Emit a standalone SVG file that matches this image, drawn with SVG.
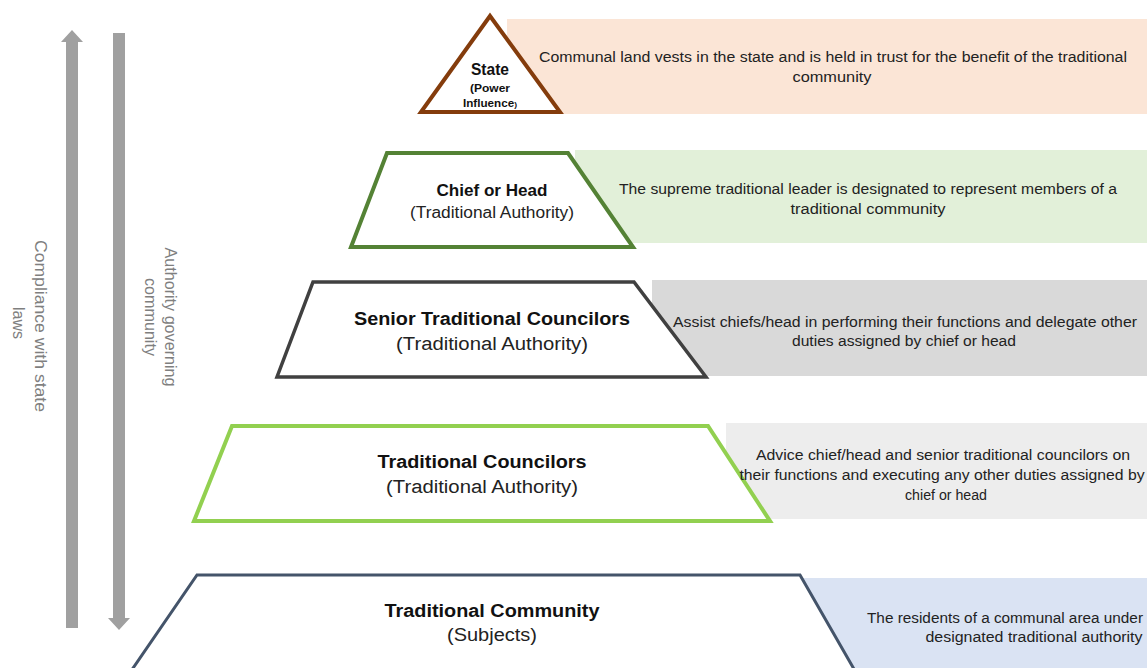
<svg xmlns="http://www.w3.org/2000/svg" width="1147" height="668" viewBox="0 0 1147 668">
<style>
.box{stroke:none}
.desc{font-family:"Liberation Sans",Arial,sans-serif;font-size:14px;fill:#222;text-anchor:middle}
.ttl{font-family:"Liberation Sans",Arial,sans-serif;font-weight:bold;fill:#111;text-anchor:middle}
.sub{font-family:"Liberation Sans",Arial,sans-serif;fill:#222;text-anchor:middle}
.side{font-family:"Liberation Sans",Arial,sans-serif;font-size:16px;fill:#7f7f7f;text-anchor:middle}
.shape{fill:#fff;stroke-linejoin:miter}
.arr{fill:#a0a0a0}
</style>
<rect width="1147" height="668" fill="#fff"/>
<g id="connectors">
<path class="arr" d="M66,42 H61 L72,30 L83,42 H78 V628 H66 Z"/>
<path class="arr" d="M113,33 H125 V618 H130 L119,630 L108,618 H113 Z"/>
</g>
<g id="label-compliance">
<text class="side" transform="translate(40,326) rotate(90)" textLength="172" lengthAdjust="spacingAndGlyphs" y="5">Compliance with state</text>
<text class="side" transform="translate(18,323) rotate(90)" textLength="32" lengthAdjust="spacingAndGlyphs" y="5">laws</text>
</g>
<g id="label-authority">
<text class="side" transform="translate(170,317) rotate(90)" textLength="139" lengthAdjust="spacingAndGlyphs" y="5" font-size="15">Authority governing</text>
<text class="side" transform="translate(150,317) rotate(90)" textLength="78" lengthAdjust="spacingAndGlyphs" y="5" font-size="15">community</text>
</g>
<g id="state">
<rect class="box" x="507" y="19" width="640" height="95" fill="#fbe5d6"/>
<polygon class="shape" points="490,16 421,112 560,112" stroke="#843c0c" stroke-width="4"/>
<text class="ttl" x="490" y="75" font-size="16" textLength="38" lengthAdjust="spacingAndGlyphs">State</text>
<text class="ttl" x="490" y="92" font-size="11" textLength="40" lengthAdjust="spacingAndGlyphs">(Power</text>
<text class="ttl" x="490" y="107" font-size="11" textLength="54" lengthAdjust="spacingAndGlyphs">Influence<tspan font-size="8">)</tspan></text>
<text class="desc" x="833" y="62" textLength="588" lengthAdjust="spacingAndGlyphs">Communal land vests in the state and is held in trust for the benefit of the traditional</text>
<text class="desc" x="832" y="82" textLength="79" lengthAdjust="spacingAndGlyphs">community</text>
</g>
<g id="chief">
<rect class="box" x="575" y="150" width="572" height="93" fill="#e2f0d9"/>
<polygon class="shape" points="387,153 568,153 633,247 351,247" stroke="#548235" stroke-width="4"/>
<text class="ttl" x="492" y="196" font-size="16" textLength="111" lengthAdjust="spacingAndGlyphs">Chief or Head</text>
<text class="sub" x="492" y="218" font-size="16" textLength="164" lengthAdjust="spacingAndGlyphs">(Traditional Authority)</text>
<text class="desc" x="868" y="194" textLength="498" lengthAdjust="spacingAndGlyphs">The supreme traditional leader is designated to represent members of a</text>
<text class="desc" x="868" y="214" textLength="155" lengthAdjust="spacingAndGlyphs">traditional community</text>
</g>
<g id="senior">
<rect class="box" x="652" y="280" width="495" height="96" fill="#d9d9d9"/>
<polygon class="shape" points="313,282 634,282 706,377 277,377" stroke="#404040" stroke-width="3.5"/>
<text class="ttl" x="492" y="325" font-size="18" textLength="276" lengthAdjust="spacingAndGlyphs">Senior Traditional Councilors</text>
<text class="sub" x="492" y="350" font-size="18" textLength="192" lengthAdjust="spacingAndGlyphs">(Traditional Authority)</text>
<text class="desc" x="905" y="327" textLength="464" lengthAdjust="spacingAndGlyphs">Assist chiefs/head in performing their functions and delegate other</text>
<text class="desc" x="904" y="346" textLength="224" lengthAdjust="spacingAndGlyphs">duties assigned by chief or head</text>
</g>
<g id="councilors">
<rect class="box" x="726" y="423" width="421" height="96" fill="#ededed"/>
<polygon class="shape" points="232,426 708,426 770,521 194,521" stroke="#92d050" stroke-width="4"/>
<text class="ttl" x="482" y="468" font-size="18" textLength="209" lengthAdjust="spacingAndGlyphs">Traditional Councilors</text>
<text class="sub" x="482" y="493" font-size="18" textLength="192" lengthAdjust="spacingAndGlyphs">(Traditional Authority)</text>
<text class="desc" x="943" y="460" textLength="374" lengthAdjust="spacingAndGlyphs">Advice chief/head and senior traditional councilors on</text>
<text class="desc" x="942" y="480" textLength="405" lengthAdjust="spacingAndGlyphs">their functions and executing any other duties assigned by</text>
<text class="desc" x="946" y="500" textLength="82" lengthAdjust="spacingAndGlyphs">chief or head</text>
</g>
<g id="community">
<rect class="box" x="801" y="578" width="346" height="90" fill="#dae3f3"/>
<polygon class="shape" points="197,575 800,575 866,690 118,690" stroke="#44546a" stroke-width="3"/>
<text class="ttl" x="492" y="617" font-size="18" textLength="215" lengthAdjust="spacingAndGlyphs">Traditional Community</text>
<text class="sub" x="492" y="641" font-size="18" textLength="90" lengthAdjust="spacingAndGlyphs">(Subjects)</text>
<text class="desc" x="1005" y="623" textLength="276" lengthAdjust="spacingAndGlyphs">The residents of a communal area under</text>
<text class="desc" x="1034" y="642" textLength="217" lengthAdjust="spacingAndGlyphs">designated traditional authority</text>
</g>
</svg>
